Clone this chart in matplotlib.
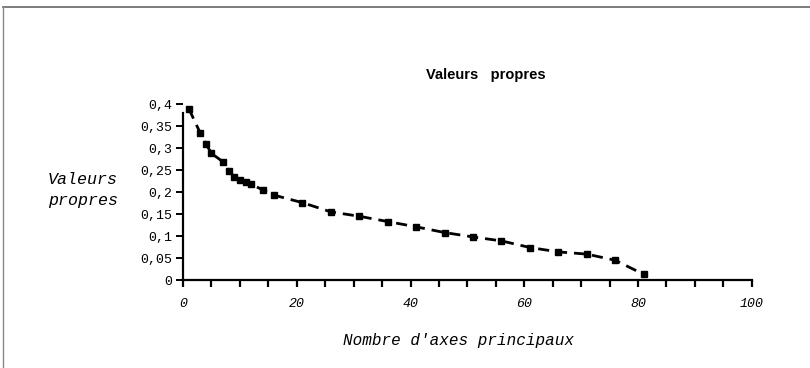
import matplotlib
matplotlib.use("Agg")
import matplotlib.pyplot as plt
from matplotlib.lines import Line2D
from matplotlib.ticker import MultipleLocator, FuncFormatter

# eigenvalues
axes_idx = [1, 3, 4, 5, 7, 8, 9, 10, 11, 12, 14, 16, 21, 26, 31, 36, 41, 46, 51, 56, 61, 66, 71, 76, 81]
eigen = [0.39, 0.335, 0.31, 0.288, 0.269, 0.248, 0.235, 0.228, 0.224, 0.218, 0.205, 0.193, 0.176,
         0.155, 0.145, 0.133, 0.121, 0.108, 0.098, 0.089, 0.074, 0.064, 0.059, 0.045, 0.013]

y_ticks = [0, 0.05, 0.1, 0.15, 0.2, 0.25, 0.3, 0.35, 0.4]
x_label_ticks = [0, 20, 40, 60, 80, 100]

MONO = "Liberation Mono"

fig = plt.figure(figsize=(8.1, 3.68), dpi=100)
fig.patch.set_facecolor("white")

# outer frame: top and left edges only
fig.lines.append(Line2D([0.004, 1.0], [0.981, 0.981], transform=fig.transFigure,
                        color="#666666", linewidth=1.2))
fig.lines.append(Line2D([0.004, 0.004], [0.0, 0.981], transform=fig.transFigure,
                        color="#888888", linewidth=1.0))

ax = fig.add_axes([0.226, 0.239, 0.702, 0.478])
ax.plot(axes_idx, eigen, color="black", linewidth=2.0, linestyle=(0, (4, 2.5)),
        marker="s", markersize=4.5, markerfacecolor="black", markeredgecolor="black")

ax.set_xlim(0, 100)
ax.set_ylim(0, 0.4)
for side in ["top", "right"]:
    ax.spines[side].set_visible(False)
ax.spines["left"].set_linewidth(1.6)
ax.spines["bottom"].set_linewidth(1.6)
ax.spines["left"].set_bounds(0, 0.38)

ax.xaxis.set_major_locator(MultipleLocator(5))
ax.xaxis.set_major_formatter(FuncFormatter(lambda v, p: f"{int(v)}" if int(round(v)) in x_label_ticks else ""))
ax.set_yticks(y_ticks)
ax.set_yticklabels([f"{v:g}".replace(".", ",") for v in y_ticks])
ax.tick_params(axis="x", direction="out", length=5, width=1.6, pad=8)
ax.tick_params(axis="y", direction="out", length=5, width=1.4, pad=3)
for lbl in ax.get_xticklabels():
    lbl.set_fontfamily(MONO)
    lbl.set_fontstyle("italic")
    lbl.set_fontsize(9.5)
for lbl in ax.get_yticklabels():
    lbl.set_fontfamily(MONO)
    lbl.set_fontsize(9.5)

fig.text(0.6, 0.796, "Valeurs   propres", fontsize=10.5, fontweight="bold",
         family="Liberation Sans", ha="center", va="center")
fig.text(0.059, 0.484, "Valeurs\npropres", fontsize=12, family=MONO, style="italic",
         ha="left", va="center", linespacing=1.5)
fig.text(0.566, 0.076, "Nombre d'axes principaux", fontsize=11.5, family=MONO, style="italic",
         ha="center", va="center")

fig.savefig("out.png", dpi=100, facecolor="white")
